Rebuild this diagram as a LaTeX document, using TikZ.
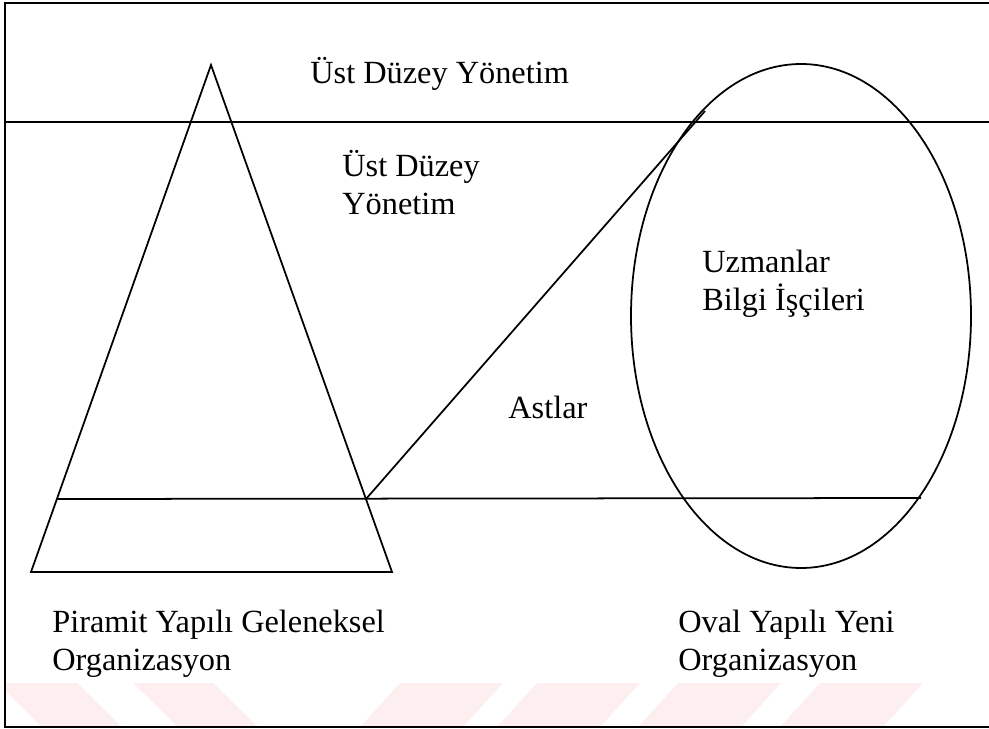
\documentclass[tikz,border=0pt]{standalone}
\usepackage{fontspec}
\setmainfont{Liberation Serif}
\usetikzlibrary{positioning}
\definecolor{wmpink}{HTML}{FDEEF0}

\begin{document}
\begin{tikzpicture}[x=0.02cm, y=-0.02cm,
  label/.style={anchor=base west, inner sep=0pt, font=\rmfamily\fontsize{18.4}{22}\selectfont},
  edge/.style={line width=1pt, black},
  frame/.style={line width=1.3pt, black},
]
  \useasboundingbox (0,0) rectangle (989,729);

  % faint watermark along the bottom
  \begin{scope}
    \clip (6,683) rectangle (989,726);
    \foreach \a in {-3,133}
      \fill[wmpink] (\a,683) -- ++(80,0) -- ++(45,44) -- ++(-80,0) -- cycle;
    \foreach \a in {400,537,678,820}
      \fill[wmpink] (\a,683) -- ++(103,0) -- ++(-40,44) -- ++(-103,0) -- cycle;
  \end{scope}

  % outer frame, open on the right
  \draw[frame] (989,3) -- (5,3) -- (5,727) -- (989,727);

  \coordinate (apex) at (211,65);
  \coordinate (baseL) at (31,572);
  \coordinate (baseR) at (392,572);
  \coordinate (midL) at (56,499);
  \coordinate (knee) at (366,499);
  \coordinate (midR) at (921,498);
  \coordinate (topL) at (5,122);
  \coordinate (topR) at (989,122);
  \coordinate (tip) at (705,111);
  \coordinate (oval) at (801,316);

  \draw[edge] (apex) -- (baseL) -- (baseR) -- cycle;
  \draw[edge] (topL) -- (topR);
  \draw[edge] (midL) -- (midR);
  \draw[edge] (knee) -- (tip);
  \draw[edge] (oval) ellipse [x radius=170, y radius=252];

  \node[label] (top) at (310,84) {Üst Düzey Yönetim};
  \node[label] (mgmt1) at (342,177) {Üst Düzey};
  \node[label] (mgmt2) at (342,215) {Yönetim};
  \node[label] (expert1) at (702,273) {Uzmanlar};
  \node[label] (expert2) at (702,310) {Bilgi İşçileri};
  \node[label] (sub) at (508,418) {Astlar};
  \node[label] (pyr1) at (52,632) {Piramit Yapılı Geleneksel};
  \node[label] (pyr2) at (52,670) {Organizasyon};
  \node[label] (ovl1) at (678,632) {Oval Yapılı Yeni};
  \node[label] (ovl2) at (678,670) {Organizasyon};
\end{tikzpicture}
\end{document}
